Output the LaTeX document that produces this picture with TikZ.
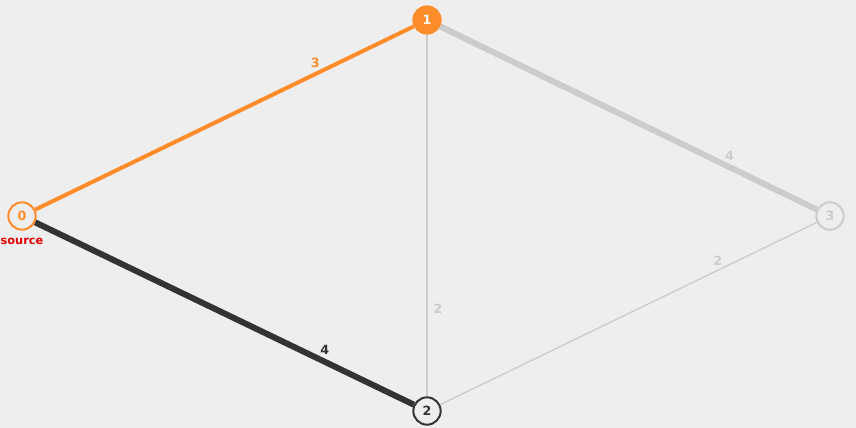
\documentclass[tikz,border=0pt]{standalone}
\usepackage{fontspec}
\setmainfont{DejaVu Sans}
\usetikzlibrary{positioning}
\definecolor{bgray}{HTML}{EEEEEE}
\definecolor{orng}{HTML}{FF8C2A}
\definecolor{dark}{HTML}{333333}
\definecolor{lgray}{HTML}{CCCCCC}
\definecolor{srcred}{HTML}{E00000}
\begin{document}
\begin{tikzpicture}[x=0.75pt,y=-0.75pt,auto,
                    font=\bfseries\fontsize{9.5}{11}\selectfont]
  \tikzstyle{vertex}=[circle,draw,line width=1.5pt,minimum size=20.5pt,inner sep=0pt,fill=bgray]
  \tikzstyle{wlabel}=[above=2pt,inner sep=1pt]

  \useasboundingbox (0,0) rectangle (856,428);
  \fill[bgray] (0,0) rectangle (856,428);

  \node[vertex,draw=orng,text=orng]            (v0) at (22,216)  {0};
  \node[vertex,draw=orng,fill=orng,text=white] (v1) at (427,20)  {1};
  \node[vertex,draw=dark,text=dark]            (v2) at (427,411) {2};
  \node[vertex,draw=lgray,text=lgray]          (v3) at (830,216) {3};
  \node[text=srcred,below=2pt of v0,font=\bfseries\fontsize{8.5}{10}\selectfont] (src) {source};

  \path (v0) edge [orng,line width=3pt]    node[wlabel,pos=0.74,text=orng]  {3} (v1)
        (v0) edge [dark,line width=4.5pt]  node[wlabel,pos=0.765,text=dark] {4} (v2)
        (v1) edge [lgray,line width=4.5pt] node[wlabel,pos=0.768,text=lgray] {4} (v3)
        (v1) edge [lgray,line width=1pt]   node[pos=0.758,right=3.5pt,inner sep=1pt,text=lgray] {2} (v2)
        (v2) edge [lgray,line width=1pt]   node[wlabel,pos=0.737,text=lgray] {2} (v3);
\end{tikzpicture}
\end{document}
